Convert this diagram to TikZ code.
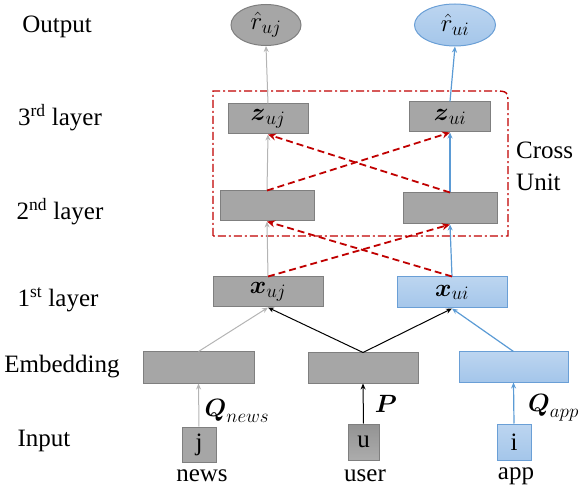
\RequirePackage{fix-cm}
\documentclass[tikz,border=0pt]{standalone}
\usepackage{amsmath}
\usepackage{fontspec}
\setmainfont{Liberation Serif}
\usetikzlibrary{arrows.meta,shapes.geometric}
\newcommand\mysub[1]{\hbox{\fontsize{19}{20}\selectfont$#1$}}
\definecolor{boxgray}{HTML}{A6A6A6}
\definecolor{edgegray}{HTML}{7F7F7F}
\definecolor{arrgray}{HTML}{B4B4B4}
\definecolor{bluefill}{HTML}{A4C6EA}
\definecolor{bluelight}{HTML}{BCD5F0}
\definecolor{blueedge}{HTML}{6A9FD6}
\definecolor{bluearr}{HTML}{5B9BD5}
\definecolor{crossred}{HTML}{C00000}
\tikzset{
  graybox/.style={draw=edgegray, line width=1pt, fill=boxgray, inner sep=0pt},
  bluebox/.style={draw=blueedge, line width=1pt, top color=bluelight, bottom color=bluefill, inner sep=0pt},
  lab/.style={font=\rmfamily\fontsize{25}{30}\selectfont, inner sep=0pt},
  mlab/.style={font=\rmfamily\fontsize{25}{28}\selectfont, inner sep=0pt},
  garr/.style={draw=arrgray, line width=1pt, -{Stealth[length=6pt,width=5pt]}},
  barr/.style={draw=bluearr, line width=1.2pt, -{Stealth[length=6pt,width=5pt]}},
  karr/.style={draw=black, line width=1pt, -{Stealth[length=6pt,width=5pt]}},
  rarr/.style={draw=crossred, line width=1.8pt, dash pattern=on 7pt off 4pt, -{Stealth[length=8pt,width=7pt]}},
}
\begin{document}
\begin{tikzpicture}[x=1pt,y=-1pt]
\useasboundingbox (0,0) rectangle (582,492);
% left labels
\node[lab] (lout) at (57,27) {Output};
\node[lab] (l3) at (60,118) {3\textsuperscript{rd} layer};
\node[lab] (l2) at (60,212) {2\textsuperscript{nd} layer};
\node[lab] (l1) at (58,300) {1\textsuperscript{st} layer};
\node[lab] (lemb) at (62,367) {Embedding};
\node[lab] (lin) at (44,441) {Input};
% output
\node[ellipse, draw=edgegray, line width=1pt, fill=boxgray, minimum width=70pt, minimum height=41pt, inner sep=0pt, mlab] (ruj) at (266,25) {$\hat{r}_{\mysub{uj}}$};
\node[ellipse, draw=blueedge, line width=1pt, top color=bluelight, bottom color=bluefill, minimum width=81pt, minimum height=42pt, inner sep=0pt, mlab] (rui) at (455,25) {$\hat{r}_{\mysub{ui}}$};
% 3rd layer
\node[graybox, minimum width=80pt, minimum height=30pt, mlab] (zuj) at (268,119) {$\boldsymbol{z}_{\mysub{uj}}$};
\node[graybox, minimum width=81pt, minimum height=30pt, mlab] (zui) at (450,117) {$\boldsymbol{z}_{\mysub{ui}}$};
% 2nd layer
\node[graybox, minimum width=94pt, minimum height=30pt] (hl) at (267,206) {};
\node[graybox, minimum width=94pt, minimum height=31pt] (hr) at (450,208.5) {};
% 1st layer
\node[graybox, minimum width=110pt, minimum height=30pt, mlab] (xuj) at (268,292) {$\boldsymbol{x}_{\mysub{uj}}$};
\node[bluebox, minimum width=110pt, minimum height=31pt, mlab] (xui) at (452,292.5) {$\boldsymbol{x}_{\mysub{ui}}$};
% embedding
\node[graybox, minimum width=111pt, minimum height=31pt] (el) at (198.5,367.5) {};
\node[graybox, minimum width=110pt, minimum height=30pt] (em) at (363,368) {};
\node[bluebox, minimum width=109pt, minimum height=30pt] (er) at (513.5,367) {};
% input
\node[graybox, minimum width=34pt, minimum height=35pt, lab] (j) at (199,444.5) {j};
\node[draw=edgegray, line width=1pt, top color=gray!85, bottom color=gray!65, minimum width=31pt, minimum height=36pt, inner sep=0pt, lab] (u) at (363.5,442) {u};
\node[bluebox, minimum width=34pt, minimum height=36pt, lab] (i) at (514,442) {i};
% bottom labels
\node[lab] (tnews) at (202,476) {news};
\node[lab] (tuser) at (365,476) {user};
\node[lab] (tapp) at (516,476) {app};
% cross unit frame
\coordinate (cu1) at (213,236);
\coordinate (cu2) at (213,91);
\coordinate (cu3) at (493,91);
\coordinate (cu4) at (508,106);
\coordinate (cu5) at (508,236);
\draw[crossred, line width=1.4pt, dash pattern=on 8pt off 3pt on 2pt off 3pt]
  (cu1) -- (cu2) -- (cu3) .. controls (508,91) .. (cu4) -- (cu5) -- cycle;
\node[lab, align=left, anchor=west] (cross) at (516,166) {Cross\\[2pt]Unit};
% arrows: input to embedding
\draw[garr] (j.north) -- (el.south);
\draw[karr] (u.north) -- (em.south);
\draw[barr] (i.north) -- (er.south);
\node[mlab] (qn) at (237,411) {$\boldsymbol{Q}_{\mysub{news}}$};
\node[mlab] (pp) at (386,404) {$\boldsymbol{P}$};
\node[mlab, anchor=west] (qa) at (528,408) {$\boldsymbol{Q}_{\mysub{app}}$};
% embedding to 1st layer
\draw[garr] (el.north) -- (xuj.south);
\draw[karr] (em.north) -- (xuj.south);
\draw[karr] (em.north) -- (xui.south);
\draw[barr] (er.north) -- (xui.south);
% columns
\draw[garr] (xuj.north) -- (hl.south);
\draw[garr] (hl.north) -- (zuj.south);
\draw[garr] (zuj.north) -- (ruj.south);
\draw[barr] (xui.north) -- (hr.south);
\draw[barr] (hr.north) -- (zui.south);
\draw[barr] (zui.north) -- (rui.south);
% cross connections
\draw[rarr] (xuj.north) -- (hr.south);
\draw[rarr] (xui.north) -- (hl.south);
\draw[rarr] (hl.north) -- (zui.south);
\draw[rarr] (hr.north) -- (zuj.south);
\end{tikzpicture}
\end{document}
